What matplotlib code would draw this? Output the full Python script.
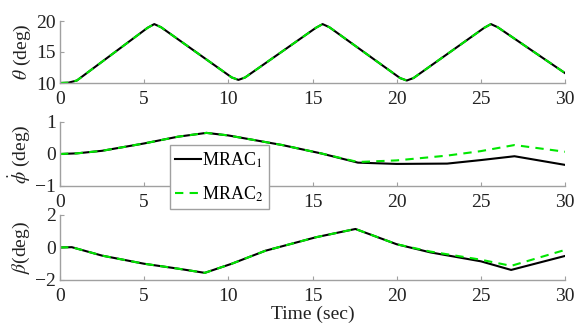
import numpy as np
import matplotlib.pyplot as plt

plt.rcParams['font.family'] = ['Liberation Serif', 'DejaVu Serif']
plt.rcParams['mathtext.fontset'] = 'stix'

# values (time in sec, angles in deg)
t_theta = [0, 0.5, 1.0, 5.2, 5.6, 6.0, 10.2, 10.6, 11.0, 15.2, 15.6, 16.0,
           20.2, 20.6, 21.0, 25.2, 25.6, 26.0, 30]
theta1 = [10.0, 10.05, 10.4, 18.9, 19.5, 19.0, 10.9, 10.5, 10.9, 18.9, 19.5, 19.0,
          10.8, 10.4, 10.8, 18.9, 19.5, 19.0, 11.6]
theta2 = theta1

t_phi = [0, 1, 2.5, 5, 7, 8.7, 10, 13.2, 15.5, 17.7, 20, 23, 25, 27, 30]
phi1 = [0, 0.02, 0.1, 0.33, 0.54, 0.66, 0.58, 0.28, 0.02, -0.27, -0.31, -0.3, -0.19, -0.07, -0.34]
phi2 = [0, 0.02, 0.1, 0.33, 0.54, 0.66, 0.58, 0.28, 0.02, -0.25, -0.2, -0.05, 0.09, 0.28, 0.07]

t_beta = [0, 0.7, 2.5, 5, 7, 8.6, 10.2, 12.2, 15.2, 17.55, 20, 22, 25, 26.8, 30]
beta1 = [0, 0.02, -0.5, -1.0, -1.3, -1.56, -1.0, -0.2, 0.63, 1.14, 0.2, -0.3, -0.85, -1.38, -0.52]
beta2 = [0, 0.02, -0.5, -1.0, -1.3, -1.56, -1.0, -0.2, 0.63, 1.14, 0.2, -0.25, -0.75, -1.13, -0.15]

xticks = [0, 5, 10, 15, 20, 25, 30]

fig = plt.figure(figsize=(5.76, 3.31), dpi=100)
W, H = 576, 331
boxes = [(21, 83), (122, 186), (215, 280)]
axs = [fig.add_axes([60 / W, 1 - b / H, 505 / W, (b - a) / H]) for a, b in boxes]

panels = [
    (t_theta, theta1, theta2, (10, 20), [10, 15, 20], r'$\theta$ (deg)'),
    (t_phi, phi1, phi2, (-1, 1), [-1, 0, 1], r'$\dot{\phi}$ (deg)'),
    (t_beta, beta1, beta2, (-2, 2), [-2, 0, 2], r'$\beta$(deg)'),
]

for ax, (t, y1, y2, yl, yt, lab) in zip(axs, panels):
    ax.plot(t, y1, color='black', lw=1.5, label='MRAC$_1$')
    ax.plot(t, y2, color='#00e600', lw=1.5, ls=(0, (4, 3)), label='MRAC$_2$')
    ax.set_xlim(0, 30)
    ax.set_ylim(*yl)
    ax.set_xticks(xticks)
    ax.set_yticks(yt)
    ax.set_ylabel(lab, fontsize=14, color='#222222', labelpad=2)
    for s in ['top', 'right']:
        ax.spines[s].set_visible(False)
    for s in ['left', 'bottom']:
        ax.spines[s].set_color('#a0a0a0')
        ax.spines[s].set_linewidth(1.0)
    ax.tick_params(direction='in', length=3, color='#a0a0a0', labelsize=14,
                   labelcolor='#222222', pad=3)
    ax.tick_params(axis='x', pad=6)

# the legend hides the "10" of the middle panel
axs[1].set_xticklabels(['0', '5', '', '15', '20', '25', '30'])

axs[2].set_xlabel('Time (sec)', fontsize=14, color='#222222', labelpad=0)

leg = axs[1].legend(loc='upper left', bbox_to_anchor=(170 / W, 1 - 145 / H),
                    bbox_transform=fig.transFigure, fontsize=13, frameon=True,
                    fancybox=False, edgecolor='#a0a0a0', framealpha=1,
                    handlelength=1.4, handletextpad=0.1, labelspacing=0.8,
                    borderpad=0.3, borderaxespad=0)
leg.get_frame().set_linewidth(1.0)
leg.set_zorder(10)

fig.savefig('out.png', dpi=100)
